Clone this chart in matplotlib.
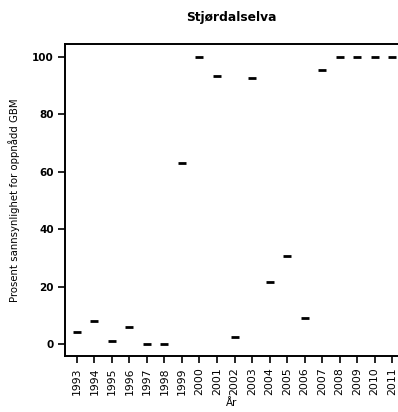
import matplotlib
matplotlib.use('Agg')
import matplotlib.pyplot as plt

plt.rcParams['font.family'] = ['DejaVu Sans']

years = list(range(1993, 2012))
percent = [4, 8, 1.1, 5.8, 0, 0, 63, 100, 93.4, 2.4, 92.6, 21.6, 30.5, 8.9, 95.5, 100, 100, 100, 100]

fig = plt.figure(figsize=(3.98, 4.12), dpi=100)
ax = fig.add_axes([0.163, 0.136, 0.837, 0.756])

ax.scatter(years, percent, marker='_', s=36, linewidths=2.0, color='black', zorder=3)

ax.set_xlim(1992.31, 2011.34)
ax.set_ylim(-4.2, 104.4)
ax.set_xticks(years)
ax.set_xticklabels([str(y) for y in years], rotation=90, fontsize=7.8)
ax.set_yticks([0, 20, 40, 60, 80, 100])
plt.setp(ax.get_yticklabels(), fontsize=7.5, fontweight='bold')

ax.spines['right'].set_visible(False)
for s in ['left', 'top', 'bottom']:
    ax.spines[s].set_linewidth(1.4)
ax.tick_params(direction='out', length=5, width=1.2, pad=3)

ax.set_title('Stjørdalselva', fontsize=8.8, fontweight='bold', pad=17)
ax.set_ylabel('Prosent sannsynlighet for oppnådd GBM', fontsize=7.3, labelpad=9)
ax.set_xlabel('År', fontsize=7.5, labelpad=2.5)

fig.savefig('out.png', dpi=100)
